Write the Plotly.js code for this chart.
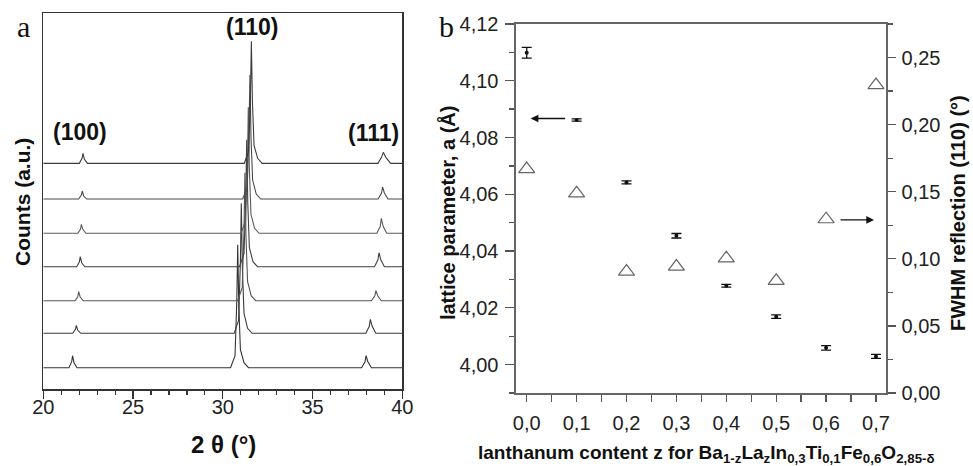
<!DOCTYPE html>
<html>
<head>
<meta charset="utf-8">
<script src="https://cdn.plot.ly/plotly-3.0.1.min.js"></script>
<style>html,body{margin:0;padding:0;background:#fff;}#chart{width:973px;height:466px;}</style>
</head>
<body>
<div id="chart"></div>
<script>
// ---------- Panel a: XRD patterns (bottom to top) ----------
const patternOffsets = [21.3, 55.7, 88.3, 122.3, 155.7, 190.0, 225.7];
const patternColors = ['#333333', '#3a3a3a', '#555555', '#404040', '#5a5a5a', '#4a4a4a', '#3c3c3c'];

const p0x = [20, 21.43, 21.58, 21.63, 21.71, 21.88, 30.43, 30.68, 30.78, 30.83, 30.89, 30.98, 31.18, 31.43, 37.73, 37.92, 37.98, 38.08, 38.28, 40];
const p0y = [0, 0, 6, 12, 5, 0, 0, 12, 68, 123, 62, 18, 5, 0, 0, 6, 12, 6, 0, 0];
const p1x = [20, 21.64, 21.79, 21.84, 21.92, 22.09, 30.63, 30.88, 30.98, 31.03, 31.09, 31.18, 31.38, 31.63, 37.97, 38.16, 38.22, 38.32, 38.52, 40];
const p1y = [0, 0, 4, 8, 3, 0, 0, 13, 72, 130, 65, 20, 5, 0, 0, 7, 14, 7, 0, 0];
const p2x = [20, 21.77, 21.92, 21.97, 22.05, 22.22, 30.83, 31.08, 31.18, 31.23, 31.29, 31.38, 31.58, 31.83, 38.28, 38.47, 38.53, 38.63, 38.83, 40];
const p2y = [0, 0, 4, 9, 4, 0, 0, 13, 70, 128, 64, 19, 5, 0, 0, 5, 10, 5, 0, 0];
const p3x = [20, 21.86, 22.01, 22.06, 22.14, 22.31, 30.93, 31.18, 31.28, 31.33, 31.39, 31.48, 31.68, 31.93, 38.45, 38.64, 38.70, 38.80, 39.00, 40];
const p3y = [0, 0, 5, 10, 4, 0, 0, 13, 70, 127, 64, 19, 5, 0, 0, 7, 14, 7, 0, 0];
const p4x = [20, 21.92, 22.07, 22.12, 22.20, 22.37, 31.02, 31.27, 31.37, 31.42, 31.48, 31.57, 31.77, 32.02, 38.58, 38.77, 38.83, 38.93, 39.13, 40];
const p4y = [0, 0, 4, 9, 4, 0, 0, 13, 69, 126, 63, 19, 5, 0, 0, 7, 15, 7, 0, 0];
const p5x = [20, 21.97, 22.12, 22.17, 22.25, 22.42, 31.11, 31.36, 31.46, 31.51, 31.57, 31.66, 31.86, 32.11, 38.65, 38.84, 38.90, 39.00, 39.20, 40];
const p5y = [0, 0, 4, 8, 3, 0, 0, 12, 68, 124, 62, 19, 5, 0, 0, 6, 12, 6, 0, 0];
const p6x = [20, 22.01, 22.16, 22.21, 22.29, 22.46, 31.19, 31.44, 31.54, 31.59, 31.65, 31.74, 31.94, 32.19, 38.64, 38.84, 38.94, 39.08, 39.35, 40];
const p6y = [0, 0, 5, 10, 4, 0, 0, 12, 67, 122, 61, 18, 5, 0, 0, 6, 11, 6, 0, 0];
const patternsX = [p0x, p1x, p2x, p3x, p4x, p5x, p6x];
const patternsY = [p0y, p1y, p2y, p3y, p4y, p5y, p6y];

// ---------- Panel b ----------
const zContent = [0.0, 0.1, 0.2, 0.3, 0.4, 0.5, 0.6, 0.7];
const latticeA = [4.1099, 4.0862, 4.0642, 4.0454, 4.0278, 4.0169, 4.0059, 4.0029];
const latticeErr = [0.0019, 0.0004, 0.0005, 0.0008, 0.0005, 0.0006, 0.0008, 0.0007];
const fwhm110 = [0.1669, 0.1488, 0.0905, 0.0942, 0.1004, 0.0836, 0.1295, 0.2295];

const traces = [];
for (let i = 0; i < patternsX.length; i++) {
  traces.push({
    type: 'scatter', mode: 'lines', xaxis: 'x', yaxis: 'y',
    x: patternsX[i],
    y: patternsY[i].map(v => v + patternOffsets[i]),
    line: {color: patternColors[i], width: 1.1},
    hoverinfo: 'skip', showlegend: false
  });
}
traces.push({
  type: 'scatter', mode: 'markers', xaxis: 'x2', yaxis: 'y2',
  x: zContent, y: latticeA,
  marker: {color: '#111', size: 4, symbol: 'circle'},
  error_y: {type: 'data', array: latticeErr, visible: true, color: '#111', thickness: 1.3, width: 5},
  showlegend: false
});
traces.push({
  type: 'scatter', mode: 'markers', xaxis: 'x2', yaxis: 'y3',
  x: zContent, y: fwhm110,
  marker: {color: '#666', size: 14, symbol: 'triangle-up-open', line: {width: 1.2, color: '#666'}},
  showlegend: false
});

const FAM = 'Liberation Sans, Arial, sans-serif';
const SERIF = 'Liberation Serif, Times New Roman, serif';
const tf = {family: FAM, size: 20, color: '#222'};
function bold(size) { return {family: FAM, size: size, color: '#111', weight: 'bold'}; }

const layout = {
  width: 973, height: 466,
  margin: {l: 0, r: 0, t: 0, b: 0},
  paper_bgcolor: '#fff', plot_bgcolor: '#fff',
  separators: ',.',
  showlegend: false,
  font: {family: FAM, color: '#222', size: 14},
  xaxis: {
    domain: [0.0445, 0.4135], range: [20, 40], anchor: 'y',
    showline: true, linecolor: '#333', linewidth: 1.5, mirror: true,
    ticks: 'outside', ticklen: 8, tickwidth: 1.3, tickcolor: '#333',
    tick0: 20, dtick: 5, tickfont: tf, showgrid: false, zeroline: false,
    ticklabelstandoff: -9,
    minor: {ticks: 'outside', ticklen: 4, dtick: 1, tickcolor: '#333', tickwidth: 1.2, showgrid: false}
  },
  yaxis: {
    domain: [0.1652, 0.9714], range: [0, 375.7], anchor: 'x',
    showline: true, linecolor: '#333', linewidth: 1.5, mirror: true,
    ticks: '', showticklabels: false, showgrid: false, zeroline: false
  },
  xaxis2: {
    domain: [0.5303, 0.9106], range: [-0.0215, 0.7201], anchor: 'y2',
    showline: true, linecolor: '#666', linewidth: 1.5, mirror: true,
    ticks: 'outside', ticklen: 7, tickwidth: 1.3, tickcolor: '#555',
    tick0: 0, dtick: 0.1, tickformat: '.1f', tickfont: tf, showgrid: false, zeroline: false,
    ticklabelstandoff: 4,
    minor: {ticks: 'outside', ticklen: 7, dtick: 0.05, tickcolor: '#555', tickwidth: 1.3, showgrid: false}
  },
  yaxis2: {
    domain: [0.15665, 0.9485], range: [3.99, 4.12], anchor: 'x2',
    showline: true, linecolor: '#666', linewidth: 1.5,
    ticks: 'outside', ticklen: 9, tickwidth: 1.3, tickcolor: '#555',
    tick0: 4, dtick: 0.02, tickformat: '.2f', tickfont: tf, showgrid: false, zeroline: false,
    ticklabelstandoff: 3,
    minor: {ticks: 'outside', ticklen: 5, dtick: 0.01, tickcolor: '#555', tickwidth: 1.3, showgrid: false}
  },
  yaxis3: {
    overlaying: 'y2', side: 'right', anchor: 'x2', range: [0, 0.275],
    showline: true, linecolor: '#666', linewidth: 1.5,
    ticks: 'outside', ticklen: 8, tickwidth: 1.3, tickcolor: '#555',
    tick0: 0, dtick: 0.05, tickformat: '.2f', tickfont: tf, showgrid: false, zeroline: false,
    ticklabelstandoff: 2,
    minor: {ticks: 'outside', ticklen: 5, dtick: 0.025, tickcolor: '#555', tickwidth: 1.3, showgrid: false}
  },
  annotations: [
    {text: 'a', xref: 'paper', yref: 'paper', x: 0.0242, y: 0.944, showarrow: false, xanchor: 'center', yanchor: 'middle',
     font: {family: SERIF, size: 30, color: '#111'}},
    {text: 'b', xref: 'paper', yref: 'paper', x: 0.459, y: 0.944, showarrow: false, xanchor: 'center', yanchor: 'middle',
     font: {family: SERIF, size: 30, color: '#111'}},
    {text: 'Counts (a.u.)', xref: 'paper', yref: 'paper', x: 0.0226, y: 0.5665, textangle: -90, showarrow: false,
     xanchor: 'center', yanchor: 'middle', font: bold(21)},
    {text: '2 θ (°)', xref: 'paper', yref: 'paper', x: 0.2292, y: 0.0451, showarrow: false,
     xanchor: 'center', yanchor: 'middle', font: bold(24)},
    {text: '(110)', xref: 'x', yref: 'y', x: 31.63, y: 362, showarrow: false, xanchor: 'center', yanchor: 'middle', font: bold(23)},
    {text: '(100)', xref: 'x', yref: 'y', x: 22.05, y: 257, showarrow: false, xanchor: 'center', yanchor: 'middle', font: bold(23)},
    {text: '(111)', xref: 'x', yref: 'y', x: 38.37, y: 256, showarrow: false, xanchor: 'center', yanchor: 'middle', font: bold(23)},
    {text: 'lattice parameter, a (Å)', xref: 'paper', yref: 'paper', x: 0.4595, y: 0.5429, textangle: -90, showarrow: false,
     xanchor: 'center', yanchor: 'middle', font: bold(20)},
    {text: 'FWHM reflection (110) (°)', xref: 'paper', yref: 'paper', x: 0.9846, y: 0.5429, textangle: -90, showarrow: false,
     xanchor: 'center', yanchor: 'middle', font: bold(20)},
    {text: 'lanthanum content z for Ba<sub>1-z</sub>La<sub>z</sub>In<sub>0,3</sub>Ti<sub>0,1</sub>Fe<sub>0,6</sub>O<sub>2,85-δ</sub>',
     xref: 'paper', yref: 'paper', x: 0.7266, y: 0.025, showarrow: false, xanchor: 'center', yanchor: 'middle', font: bold(19)},
    {text: '', xref: 'x2', yref: 'y2', x: 0.008, y: 4.0867, axref: 'x2', ayref: 'y2', ax: 0.080, ay: 4.0867,
     showarrow: true, arrowhead: 2, arrowsize: 1.1, arrowwidth: 1.4, arrowcolor: '#111'},
    {text: '', xref: 'x2', yref: 'y3', x: 0.696, y: 0.129, axref: 'x2', ayref: 'y3', ax: 0.626, ay: 0.129,
     showarrow: true, arrowhead: 2, arrowsize: 1.1, arrowwidth: 1.4, arrowcolor: '#111'}
  ]
};

Plotly.newPlot('chart', traces, layout, {staticPlot: true, displayModeBar: false});
</script>
</body>
</html>
